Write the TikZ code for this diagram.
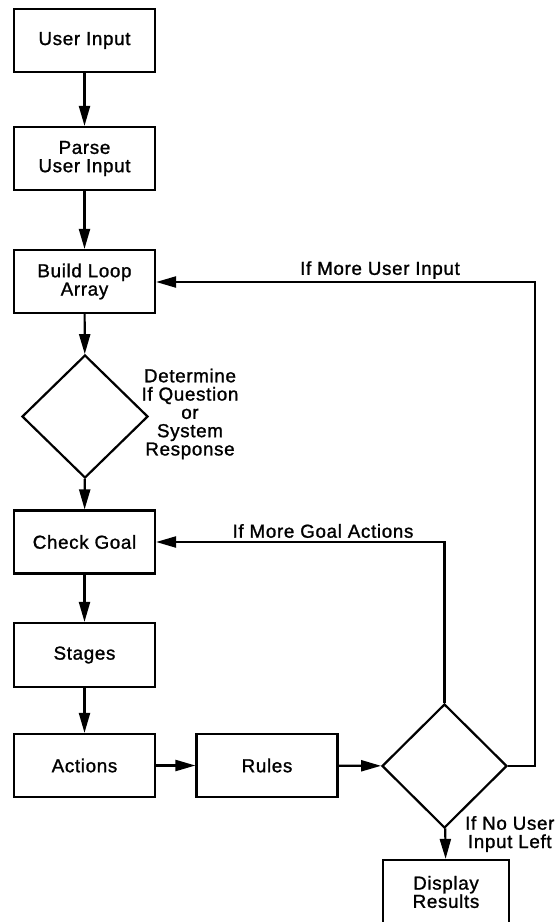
\documentclass[tikz,border=0pt]{standalone}
\usepackage{fontspec}
\setmainfont{Liberation Sans}[LetterSpace=3.5,FakeBold=1.2]
\usetikzlibrary{shapes.geometric,arrows.meta}
\begin{document}
\begin{tikzpicture}[x=1pt,y=-1pt,
  txt/.style={font=\fontsize{18.8}{18.3}\selectfont, align=center, inner sep=0pt},
  box/.style={txt, draw, line width=2.2pt, minimum width=141pt, minimum height=63pt},
  dia/.style={draw, diamond, line width=2.2pt, inner sep=0pt, minimum width=126pt, minimum height=123pt},
  conn/.style={line width=2.2pt, -{Triangle[length=20pt,width=11pt]}},
  plain/.style={line width=2.2pt}]
\useasboundingbox[fill=white] (0,0) rectangle (556,922);
\node[box] (ui) at (84.5,40.5) {User Input};
\node[box] (parse) at (84.5,158.5) {Parse\\User Input};
\node[box] (build) at (84.5,281.5) {Build Loop\\Array};
\node[dia] (d1) at (85,416.5) {};
\node[txt] (dlab) at (190,414) {Determine\\If Question\\or\\System\\Response};
\node[box] (goal) at (84.5,542) {Check Goal};
\node[box, minimum height=64pt] (stages) at (84.5,655) {Stages};
\node[box] (actions) at (84.5,765.5) {Actions};
\node[box] (rules) at (267,765.5) {Rules};
\node[dia, minimum width=125pt, minimum height=124pt] (d2) at (444.5,766) {};
\node[box, minimum width=126pt, minimum height=64pt] (disp) at (446,892) {Display\\Results};
\node[txt] (lab1) at (380,270) {If More User Input};
\node[txt] (lab2) at (323,531) {If More Goal Actions};
\node[txt, anchor=west] (lab3) at (465,834) {If No User\\Input Left};
\coordinate (c1) at (535,766);
\coordinate (c2) at (535,282);
\coordinate (c3) at (444.5,542);
\draw[conn] (ui) -- (parse);
\draw[conn] (parse) -- (build);
\draw[conn] (build) -- (d1);
\draw[conn] (d1) -- (goal);
\draw[conn] (goal) -- (stages);
\draw[conn] (stages) -- (actions);
\draw[conn] (actions) -- (rules);
\draw[conn] (rules) -- (d2);
\draw[conn] (d2) -- (disp);
\draw[conn] (d2.east) -- (c1) -- (c2) -- (build.east |- c2);
\draw[conn] (d2.north) -- (c3) -- (goal.east |- c3);
\end{tikzpicture}
\end{document}
